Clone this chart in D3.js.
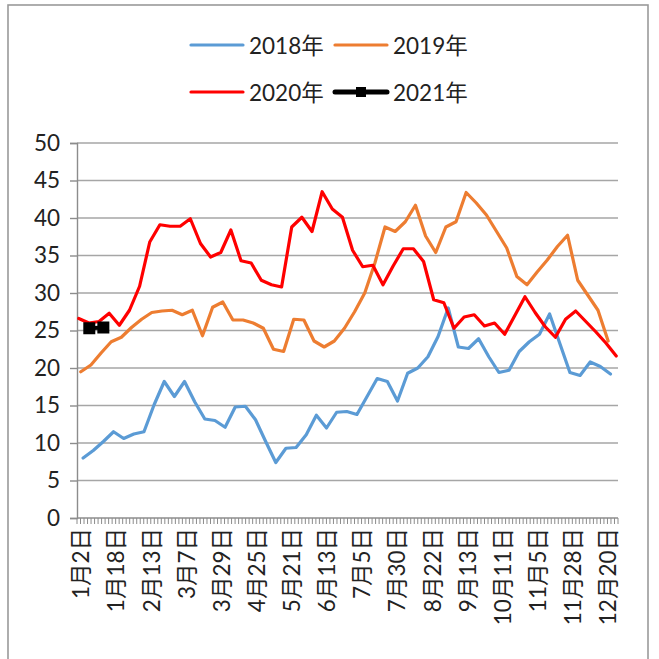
<!DOCTYPE html>
<html>
<head>
<meta charset="utf-8">
<script src="https://cdn.jsdelivr.net/npm/d3@7.9.0/dist/d3.min.js"></script>
<style>
  html, body { margin: 0; padding: 0; background: #fff; }
  svg { display: block; font-family: "Lato", "Noto Sans CJK SC", sans-serif; }
</style>
</head>
<body>
<svg id="chart" width="659" height="659"></svg>
<script>
// tick labels on the category axis (one every 10 categories)
const tickLabels = ['1月2日', '1月18日', '2月13日', '3月7日', '3月29日', '4月25日', '5月21日', '6月13日',
  '7月5日', '7月30日', '8月22日', '9月13日', '10月11日', '11月5日', '11月28日', '12月20日'];
const catCount = 154;
const labelStep = 10;

// weekly values
const v2018 = [8.0, 9.0, 10.2, 11.5, 10.6, 11.2, 11.5, 15.1, 18.2, 16.2, 18.2, 15.5, 13.2, 13.0, 12.1, 14.8,
  14.9, 13.1, 10.2, 7.4, 9.3, 9.4, 11.1, 13.7, 12.0, 14.1, 14.2, 13.8, 16.2, 18.6, 18.2, 15.6, 19.3, 20.0,
  21.5, 24.2, 28.0, 22.8, 22.6, 23.9, 21.5, 19.4, 19.7, 22.2, 23.5, 24.5, 27.2, 23.3, 19.4, 19.0, 20.8, 20.2, 19.2];
const v2019 = [19.5, 20.4, 22.0, 23.5, 24.1, 25.4, 26.5, 27.4, 27.6, 27.7, 27.1, 27.7, 24.3, 28.1, 28.8, 26.4,
  26.4, 26.0, 25.3, 22.5, 22.2, 26.5, 26.4, 23.6, 22.8, 23.6, 25.3, 27.5, 30.0, 34.0, 38.8, 38.2, 39.5, 41.7,
  37.6, 35.4, 38.8, 39.5, 43.4, 42.0, 40.4, 38.2, 36.0, 32.2, 31.1, 32.8, 34.4, 36.2, 37.7, 31.7, 29.7, 27.7, 23.6];
const v2020 = [26.6, 26.0, 26.2, 27.3, 25.7, 27.7, 30.9, 36.8, 39.1, 38.9, 38.9, 39.9, 36.6, 34.8, 35.4, 38.4,
  34.3, 34.0, 31.7, 31.1, 30.8, 38.8, 40.1, 38.2, 43.5, 41.2, 40.1, 35.7, 33.5, 33.7, 31.1, 33.6, 35.9, 35.9,
  34.2, 29.1, 28.7, 25.3, 26.8, 27.1, 25.6, 26.0, 24.5, 27.0, 29.5, 27.4, 25.5, 24.1, 26.5, 27.6, 26.2, 24.8, 23.3, 21.6];
const v2021 = [25.3, 25.4];
const cats2021 = [3, 7];

const seriesNames = ['2018年', '2019年', '2020年', '2021年'];
const seriesColors = ['#5B9BD5', '#ED7D31', '#FF0000', '#000000'];
// week offset of each year's sampling day, in weeks
const weekShift = [0.43, 0.2, 0];

const svg = d3.select('#chart');
const fontSize = 22.5;

// outer frame
svg.append('rect')
  .attr('x', 8).attr('y', 5).attr('width', 640).attr('height', 670)
  .attr('fill', 'none').attr('stroke', '#9a9a9a').attr('stroke-width', 1.6);

const plotL = 77, plotR = 618, plotT = 143, plotB = 518;

const x = d3.scaleBand().domain(d3.range(catCount)).range([plotL, plotR]);
const cx = (i) => x(i) + x.bandwidth() / 2;
const week = d3.scaleLinear().domain([0, v2020.length - 1]).range([cx(0), cx(catCount - 1)]);
const y = d3.scaleLinear().domain([0, 50]).range([plotB, plotT]);

// gridlines
svg.append('g')
  .selectAll('line')
  .data(y.ticks(10).filter((d) => d > 0))
  .join('line')
  .attr('x1', plotL).attr('x2', plotR)
  .attr('y1', (d) => y(d)).attr('y2', (d) => y(d))
  .attr('stroke', '#a6a6a6').attr('stroke-width', 1.4);

// y axis
const yAxis = svg.append('g')
  .attr('transform', `translate(${plotL},0)`)
  .call(d3.axisLeft(y).ticks(10).tickSize(7).tickPadding(10));
yAxis.select('.domain').attr('stroke', '#8c8c8c').attr('stroke-width', 1.4);
yAxis.selectAll('.tick line').attr('stroke', '#8c8c8c').attr('stroke-width', 1.4);
yAxis.selectAll('.tick text')
  .attr('font-size', fontSize).attr('fill', '#222')
  .attr('font-family', 'Lato, "Noto Sans CJK SC", sans-serif');

// x axis: a tick at every category boundary
const xg = svg.append('g');
xg.append('line')
  .attr('x1', plotL).attr('x2', plotR).attr('y1', plotB).attr('y2', plotB)
  .attr('stroke', '#8c8c8c').attr('stroke-width', 1.4);
xg.selectAll('line.tk')
  .data(d3.range(catCount + 1))
  .join('line')
  .attr('class', 'tk')
  .attr('x1', (i) => plotL + i * x.bandwidth())
  .attr('x2', (i) => plotL + i * x.bandwidth())
  .attr('y1', plotB).attr('y2', plotB + 6)
  .attr('stroke', '#8c8c8c').attr('stroke-width', 1);
xg.selectAll('text')
  .data(tickLabels)
  .join('text')
  .attr('transform', (d, i) => `translate(${cx(i * labelStep) + 2},${plotB + 10}) rotate(-90)`)
  .attr('text-anchor', 'end')
  .attr('dominant-baseline', 'central')
  .attr('font-size', fontSize).attr('fill', '#222')
  .text((d) => d);

// weekly series
const line = d3.line().x((d) => d.x).y((d) => d.y);
[v2018, v2019, v2020].forEach((vals, s) => {
  const pts = vals.map((v, i) => ({ x: week(i + weekShift[s]), y: y(v) }));
  svg.append('path')
    .attr('d', line(pts))
    .attr('fill', 'none')
    .attr('stroke', seriesColors[s])
    .attr('stroke-width', 3.2)
    .attr('stroke-linejoin', 'round')
    .attr('stroke-linecap', 'round');
});

// 2021 with square markers
const pts21 = v2021.map((v, i) => ({ x: cx(cats2021[i]), y: y(v) }));
svg.append('path')
  .attr('d', line(pts21))
  .attr('fill', 'none').attr('stroke', '#000').attr('stroke-width', 4);
svg.selectAll('rect.m21')
  .data(pts21)
  .join('rect')
  .attr('class', 'm21')
  .attr('x', (d) => d.x - 6).attr('y', (d) => d.y - 6)
  .attr('width', 12).attr('height', 12)
  .attr('fill', '#000');

// legend: two rows of two
const legend = svg.append('g');
seriesNames.forEach((name, i) => {
  const lx = 191 + (i % 2) * 144;
  const ly = 45 + Math.floor(i / 2) * 47;
  const g = legend.append('g').attr('transform', `translate(${lx},${ly})`);
  g.append('line')
    .attr('x1', 0).attr('x2', 52).attr('y1', 0).attr('y2', 0)
    .attr('stroke', seriesColors[i])
    .attr('stroke-width', i === 3 ? 5 : 3.2)
    .attr('stroke-linecap', 'round');
  if (i === 3) {
    g.append('rect').attr('x', 21).attr('y', -5).attr('width', 10).attr('height', 10).attr('fill', '#000');
  }
  g.append('text')
    .attr('x', 58).attr('y', 0)
    .attr('dominant-baseline', 'central')
    .attr('font-size', fontSize).attr('fill', '#222')
    .text(name);
});
</script>
</body>
</html>
